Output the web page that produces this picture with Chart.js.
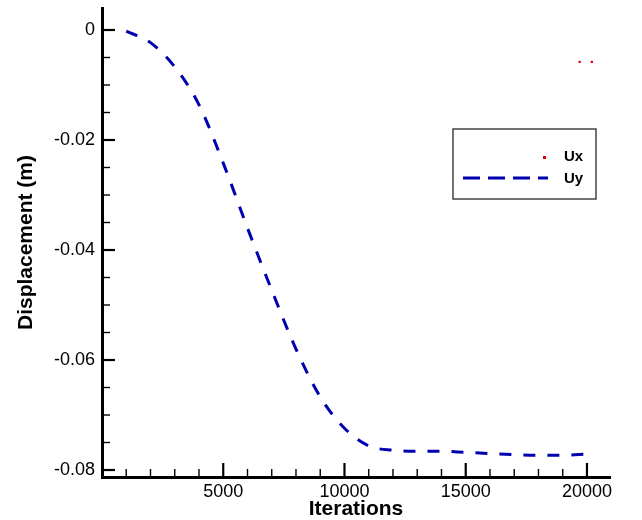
<!DOCTYPE html>
<html>
<head>
<meta charset="utf-8">
<script src="https://cdn.jsdelivr.net/npm/chart.js@4.4.1/dist/chart.umd.min.js"></script>
<style>
html, body { margin: 0; padding: 0; background: #fff; }
</style>
</head>
<body>
<canvas id="dispChart" width="642" height="520"></canvas>
<script>
// Data
const iterations = [1000, 2000, 3000, 4000, 5000, 6000, 7000, 8000, 9000, 10000,
    11000, 12000, 13000, 14000, 15000, 16000, 17000, 18000, 19000, 20000];
const uy = [-0.0002, -0.0023, -0.0067, -0.0136, -0.0242, -0.036, -0.0473, -0.058, -0.0667, -0.0724,
    -0.0756, -0.0764, -0.0766, -0.0766, -0.0768, -0.077, -0.0772, -0.0773, -0.0773, -0.0771];
const uxIterations = [19700, 20200];
const ux = [-0.0058, -0.0058];

const xTickValues = [5000, 10000, 15000, 20000];
const yTickValues = [0, -0.02, -0.04, -0.06, -0.08];

const FONT = "'Liberation Sans', Arial, sans-serif";
Chart.defaults.color = '#000';
Chart.defaults.font.family = FONT;

// Inward major/minor ticks, like the original plot
const inwardTicks = {
    id: 'inwardTicks',
    afterDraw(chart) {
        const ctx = chart.ctx;
        const xs = chart.scales.x;
        const ys = chart.scales.y;
        const area = chart.chartArea;
        ctx.save();
        ctx.strokeStyle = '#000';
        // x axis
        for (let v = 1000; v <= 20000; v += 1000) {
            const px = xs.getPixelForValue(v);
            const major = v % 5000 === 0;
            ctx.lineWidth = major ? 2.2 : 1.4;
            ctx.beginPath();
            ctx.moveTo(px, area.bottom);
            ctx.lineTo(px, area.bottom - (major ? 14 : 8));
            ctx.stroke();
        }
        // y axis
        for (let i = 0; i <= 16; i++) {
            const v = -i * 0.005;
            const py = ys.getPixelForValue(v);
            const major = i % 4 === 0;
            ctx.lineWidth = major ? 2.2 : 1.4;
            ctx.beginPath();
            ctx.moveTo(area.left, py);
            ctx.lineTo(area.left + (major ? 13 : 8), py);
            ctx.stroke();
        }
        ctx.restore();
    }
};

// Boxed legend placed inside the plot
const boxLegend = {
    id: 'boxLegend',
    afterDraw(chart) {
        const ctx = chart.ctx;
        const dsUx = chart.data.datasets[0];
        const dsUy = chart.data.datasets[1];
        ctx.save();
        ctx.strokeStyle = '#444';
        ctx.lineWidth = 1.5;
        ctx.strokeRect(453, 129, 143, 70);

        ctx.fillStyle = dsUx.pointBackgroundColor;
        ctx.fillRect(543, 156, 3, 3);

        ctx.strokeStyle = dsUy.borderColor;
        ctx.lineWidth = 3;
        ctx.setLineDash([17, 8]);
        ctx.beginPath();
        ctx.moveTo(463, 178);
        ctx.lineTo(548, 178);
        ctx.stroke();
        ctx.setLineDash([]);

        ctx.fillStyle = '#000';
        ctx.font = 'bold 15px ' + FONT;
        ctx.textBaseline = 'middle';
        ctx.textAlign = 'left';
        ctx.fillText(dsUx.label, 564, 157);
        ctx.fillText(dsUy.label, 564, 179);
        ctx.restore();
    }
};

const ctx = document.getElementById('dispChart').getContext('2d');
new Chart(ctx, {
    type: 'line',
    data: {
        datasets: [{
            label: 'Ux',
            data: uxIterations.map((x, i) => ({ x: x, y: ux[i] })),
            showLine: false,
            pointStyle: 'rect',
            pointRadius: 1.6,
            pointBackgroundColor: '#e00000',
            pointBorderWidth: 0,
        }, {
            label: 'Uy',
            data: iterations.map((x, i) => ({ x: x, y: uy[i] })),
            borderColor: '#0000b0',
            borderWidth: 3,
            borderDash: [12, 12],
            cubicInterpolationMode: 'monotone',
            pointRadius: 0,
            fill: false,
        }],
    },
    options: {
        responsive: false,
        animation: false,
        devicePixelRatio: 1,
        layout: { padding: { top: 8, right: 32, left: 0, bottom: 0 } },
        plugins: {
            legend: { display: false },
            tooltip: { enabled: false },
        },
        scales: {
            x: {
                type: 'linear',
                position: 'bottom',
                min: 0,
                max: 20950,
                grid: { display: false, drawTicks: false },
                border: { display: true, color: '#000', width: 3 },
                ticks: { padding: 4, font: { size: 18 }, callback: v => String(v) },
                afterBuildTicks: scale => { scale.ticks = xTickValues.map(v => ({ value: v })); },
                afterFit: scale => {
                    scale.height = 43;
                    scale.paddingLeft = 0;
                    scale.paddingRight = 0;
                },
                title: {
                    display: true,
                    text: 'Iterations',
                    font: { size: 21, weight: 'bold', lineHeight: 1 },
                    padding: 0,
                },
            },
            y: {
                type: 'linear',
                min: -0.08127,
                max: 0.004,
                grid: { display: false, drawTicks: false },
                border: { display: true, color: '#000', width: 3 },
                ticks: {
                    padding: 7,
                    font: { size: 18 },
                    callback: v => String(v),
                },
                afterBuildTicks: scale => { scale.ticks = yTickValues.map(v => ({ value: v })); },
                afterFit: scale => {
                    scale.width = 102;
                    scale.paddingTop = 0;
                    scale.paddingBottom = 0;
                },
                title: {
                    display: true,
                    text: 'Displacement (m)',
                    font: { size: 21, weight: 'bold', lineHeight: 1 },
                    padding: { top: 16, bottom: 0 },
                },
            },
        },
    },
    plugins: [inwardTicks, boxLegend],
});
</script>
</body>
</html>
